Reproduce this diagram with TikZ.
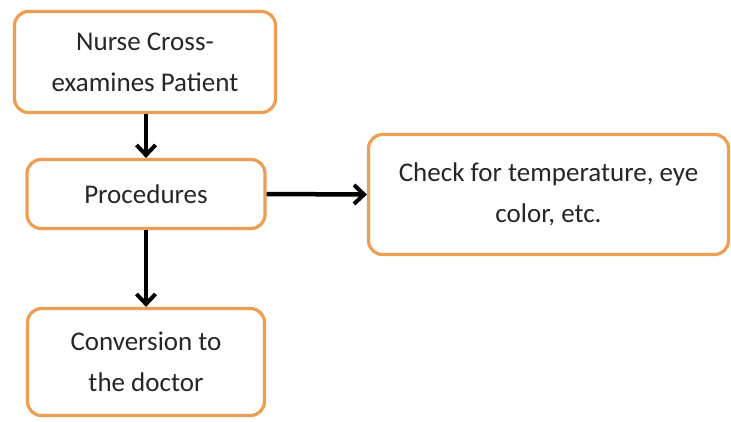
\documentclass[tikz,border=0pt]{standalone}
\usepackage{fontspec}
\setmainfont{Carlito}
\usetikzlibrary{arrows.meta}
\definecolor{boxorange}{HTML}{EE9E52}
\definecolor{inktext}{HTML}{262626}
\tikzset{
  stage/.style={draw=boxorange, line width=3.2pt, rounded corners=14pt, fill=white,
    text=inktext, align=center, font=\fontsize{27}{41}\selectfont, inner sep=0pt},
  flow/.style={line width=4.5pt, -{Straight Barb[length=10pt, width=19pt, line width=4pt]}}
}
\begin{document}
\begin{tikzpicture}[x=1pt, y=-1pt]
\useasboundingbox (0,0) rectangle (731,421);
\node[stage, minimum width=261pt, minimum height=101pt] (nurse) at (145,62) {Nurse Cross-\\examines Patient};
\node[stage, minimum width=238pt, minimum height=69pt] (proc) at (146,194) {Procedures};
\node[stage, minimum width=360pt, minimum height=120pt] (check) at (548.5,194.5) {Check for temperature, eye\\color, etc.};
\node[stage, minimum width=237pt, minimum height=107pt] (conv) at (146,362) {Conversion to\\the doctor};
\draw[flow] (nurse.south -| proc.north) -- (proc.north);
\draw[flow] (proc.east) -- (check.west);
\draw[flow] (proc.south) -- (conv.north);
\end{tikzpicture}
\end{document}
